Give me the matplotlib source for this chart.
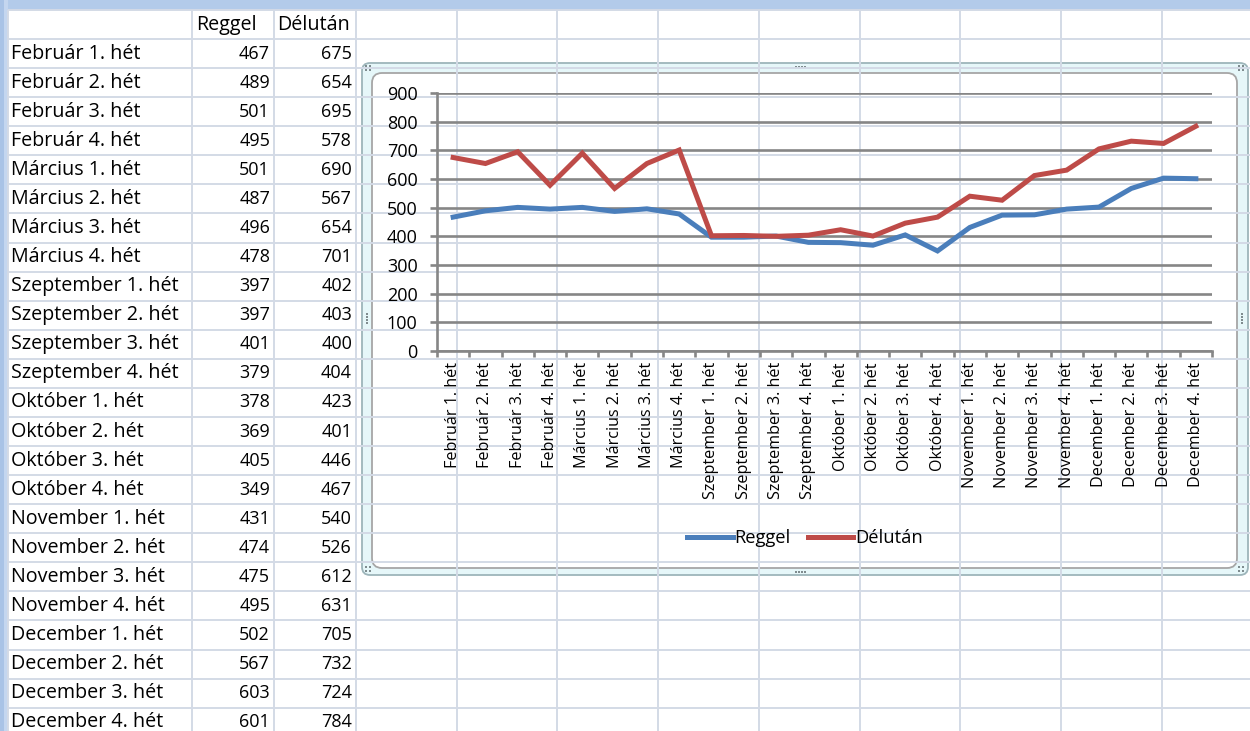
import matplotlib
matplotlib.use("Agg")
import matplotlib.pyplot as plt
from matplotlib.patches import Rectangle, FancyBboxPatch

plt.rcParams['font.family'] = ['Open Sans', 'DejaVu Sans']

# adatok a táblázatból
hetek = ["Február 1. hét", "Február 2. hét", "Február 3. hét", "Február 4. hét",
         "Március 1. hét", "Március 2. hét", "Március 3. hét", "Március 4. hét",
         "Szeptember 1. hét", "Szeptember 2. hét", "Szeptember 3. hét", "Szeptember 4. hét",
         "Október 1. hét", "Október 2. hét", "Október 3. hét", "Október 4. hét",
         "November 1. hét", "November 2. hét", "November 3. hét", "November 4. hét",
         "December 1. hét", "December 2. hét", "December 3. hét", "December 4. hét"]
reggel = [467, 489, 501, 495, 501, 487, 496, 478, 397, 397, 401, 379,
          378, 369, 405, 349, 431, 474, 475, 495, 502, 567, 603, 601]
delutan = [675, 654, 695, 578, 690, 567, 654, 701, 402, 403, 400, 404,
           423, 401, 446, 467, 540, 526, 612, 631, 705, 732, 724, 784]
oszlop_nevek = ["Reggel", "Délután"]
y_ticks = [0, 100, 200, 300, 400, 500, 600, 700, 800, 900]

W, H = 1250, 731
fig = plt.figure(figsize=(W / 100, H / 100), dpi=100)

# háttér: a munkalap rácsa, pixel koordinátákban
bg = fig.add_axes([0, 0, 1, 1])
bg.set_xlim(0, W)
bg.set_ylim(H, 0)
bg.axis('off')

grid_c = '#d3dae6'
row_h = 29.07
top = 10
bg.add_patch(Rectangle((0, 0), W, top, color='#b3cbea', lw=0))
bg.add_patch(Rectangle((0, 0), 8, H, color='#a9c3e6', lw=0))
bg.add_patch(Rectangle((4, 0), 4, H, color='#c4d6ef', lw=0))

for k in range(26):
    y = top + row_h * k
    bg.plot([8, W], [y, y], color=grid_c, lw=1.4, solid_capstyle='butt')
for x in [8, 192, 274, 356, 457, 557, 658, 759, 860, 960, 1061, 1162]:
    bg.plot([x, x], [top, H], color=grid_c, lw=1.4, solid_capstyle='butt')

fs_txt = 14.2   # szöveg
fs_num = 13.0   # számok
bg.text(196, top + row_h * 0.5, oszlop_nevek[0], fontsize=fs_txt, va='center', ha='left')
bg.text(277, top + row_h * 0.5, oszlop_nevek[1], fontsize=fs_txt, va='center', ha='left')
for i, nev in enumerate(hetek):
    yc = top + row_h * (i + 1.5)
    bg.text(11, yc, nev, fontsize=fs_txt, va='center', ha='left')
    bg.text(270, yc, str(reggel[i]), fontsize=fs_num, va='center', ha='right')
    bg.text(352, yc, str(delutan[i]), fontsize=fs_num, va='center', ha='right')

# diagram keret
bg.add_patch(FancyBboxPatch((366, 67), 878, 504, boxstyle='round,pad=4,rounding_size=8',
                            fc='#e6f7f9', ec='#9db5ba', lw=1.3))
bg.add_patch(FancyBboxPatch((374, 75), 861, 491, boxstyle='round,pad=2,rounding_size=10',
                            fc='white', ec='#a6a6a6', lw=1.3))
# fogantyúk
for cx, cy, horiz in [(800, 67, True), (800, 572, True), (367, 318, False), (1242, 318, False)]:
    for j in range(4):
        dx, dy = ((j - 1.5) * 3, 0) if horiz else (0, (j - 1.5) * 3)
        bg.add_patch(Rectangle((cx + dx - 1, cy + dy - 1), 2, 2, color='#7f8c8f', lw=0))
for cx, cy in [(368, 68), (1241, 68), (368, 569), (1241, 569)]:
    for dx in (-2, 2):
        for dy in (-2, 2):
            bg.add_patch(Rectangle((cx + dx - 1, cy + dy - 1), 2, 2, color='#7f8c8f', lw=0))

# vonaldiagram
x0, x1 = 437, 1212
y0, y1 = 93, 351
ax = fig.add_axes([x0 / W, 1 - y1 / H, (x1 - x0) / W, (y1 - y0) / H])
ax.patch.set_alpha(0)
pos = list(range(len(hetek)))
ax.plot(pos, reggel, color='#4a7ebb', lw=3.6, label=oszlop_nevek[0], solid_joinstyle='miter')
ax.plot(pos, delutan, color='#be4b48', lw=3.6, label=oszlop_nevek[1], solid_joinstyle='miter')

ax.set_xlim(-0.5, len(hetek) - 0.5)
ax.set_ylim(0, 900)
ax.set_yticks(y_ticks)
ax.yaxis.grid(True, color='#868686', lw=1.9)
ax.set_axisbelow(True)
for s in ['top', 'right']:
    ax.spines[s].set_visible(False)
for s in ['left', 'bottom']:
    ax.spines[s].set_color('#868686')
    ax.spines[s].set_linewidth(1.9)
ax.tick_params(axis='y', length=5, width=1.9, color='#868686', pad=9, labelsize=13)
ax.set_xticks(pos)
ax.set_xticklabels(hetek, rotation=90, fontsize=11.6)
ax.set_xticks([p - 0.5 for p in pos] + [len(hetek) - 0.5], minor=True)
ax.tick_params(axis='x', which='major', length=0, pad=8)
ax.tick_params(axis='x', which='minor', length=4, width=1.9, color='#868686')

ax.legend(loc='center', bbox_to_anchor=(805 / W, 1 - 538 / H), bbox_transform=fig.transFigure,
          ncol=2, frameon=False, fontsize=13.2, handlelength=2.5, handletextpad=0.1,
          columnspacing=0.9)

fig.savefig('out.png', dpi=100)
